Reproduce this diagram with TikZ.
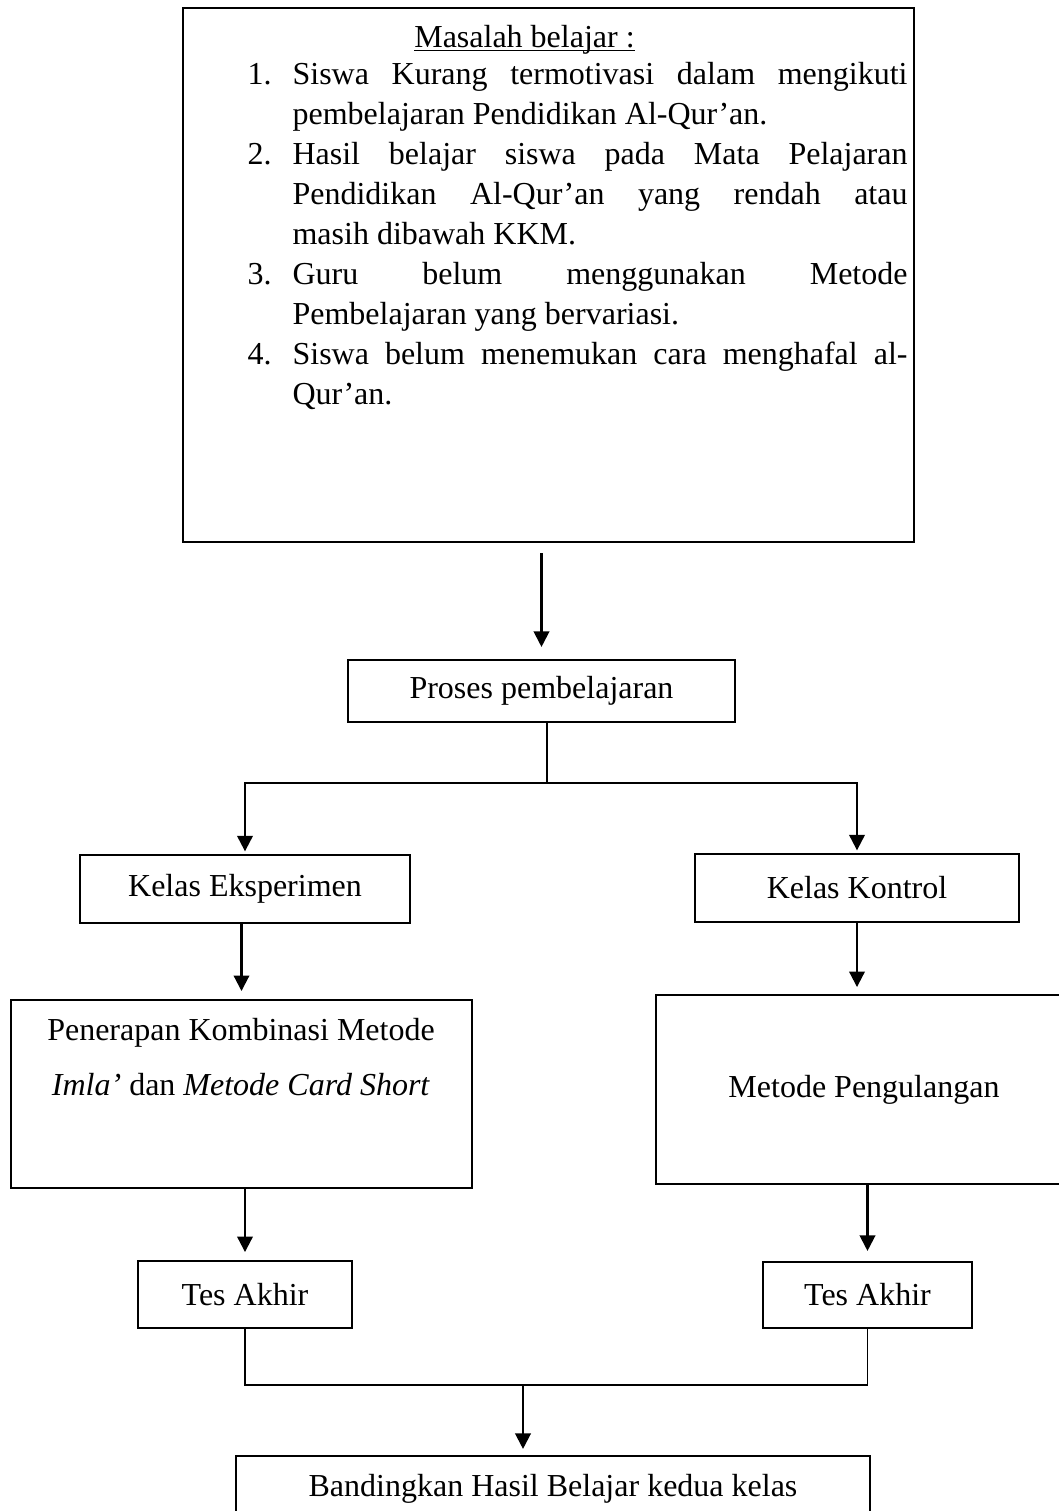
\documentclass[tikz,border=0pt]{standalone}
\usepackage{fontspec}
\setmainfont{Liberation Serif}
\usepackage{tikz}
\usetikzlibrary{arrows.meta, calc}

% numbered line with hanging text
\newcommand{\masitem}[2]{\par\noindent\hangindent=16.9pt\hangafter=1\makebox[16.9pt][l]{#1}#2\par}

\begin{document}
\begin{tikzpicture}[
        x=0.375pt, y=-0.375pt,
        every node/.style={font=\fontsize{12pt}{15pt}\selectfont},
        box/.style={draw, rectangle, line width=0.75pt, inner sep=0pt, text centered},
        arrow/.style={line width=0.8pt, -{Triangle[width=5.8pt,length=5.8pt]}},
        link/.style={line width=0.7pt}
      ]
        \useasboundingbox (0,0) rectangle (1059,1511);

        % Problem Section
        \node (masalah) [box, minimum width=274.1pt, minimum height=200.3pt] at (548.5,275) {};
        \node (masalah_title) [anchor=base, inner sep=0pt] at (524.5,47) {\underline{\smash{Masalah belajar :}}};
        \node (masalah_list) [anchor=north west, text width=247.5pt, align=justify, inner sep=0pt] at (247,44) {%
          \tolerance=10000\hyphenpenalty=10000
          \masitem{1.}{\strut Siswa Kurang termotivasi dalam mengikuti\linebreak pembelajaran Pendidikan Al-Qur’an.}
          \masitem{2.}{Hasil belajar siswa pada Mata Pelajaran\linebreak Pendidikan Al-Qur’an yang rendah atau\linebreak masih dibawah KKM.}
          \masitem{3.}{Guru belum menggunakan Metode\linebreak Pembelajaran yang bervariasi.}
          \masitem{4.}{Siswa belum menemukan cara menghafal al-\linebreak Qur’an.}};

        \node (proses) [box, minimum width=145.1pt, minimum height=23.3pt] at (541.5,691) {Proses pembelajaran};

        % Class Section
        \node (kelas_eks) [box, minimum width=123.8pt, minimum height=25.5pt] at (245,889) {Kelas Eksperimen};
        \node (kelas_kon) [box, minimum width=121.5pt, minimum height=25.5pt] at (857,888) {Kelas Kontrol};

        \node (metode_eks) [box, minimum width=172.9pt, minimum height=70.5pt] at (241.5,1094) {};
        \node (metode_eks_a) [anchor=base, inner sep=0pt] at (241,1040) {Penerapan Kombinasi Metode};
        \node (metode_eks_b) [anchor=base, inner sep=0pt] at (241,1095) {\textit{Imla’} dan \textit{Metode Card Short}};
        \node (metode_kon) [box, minimum width=156pt, minimum height=70.9pt] at (864,1089.5) {\raisebox{1.5pt}{Metode Pengulangan}};

        \node (tes_eks) [box, minimum width=80.3pt, minimum height=25.1pt] at (245,1294.5) {Tes Akhir};
        \node (tes_kon) [box, minimum width=78.4pt, minimum height=24.8pt] at (867.5,1295) {Tes Akhir};

        \node (banding) [box, minimum width=237.8pt, minimum height=24.8pt] at (553,1489) {Bandingkan Hasil Belajar kedua kelas};

        % Arrows
        \coordinate (split) at (547,783);
        \coordinate (merge) at (523,1385);
        \draw [arrow, shorten <=3.75pt, shorten >=4.5pt] (proses.north |- masalah.south) -- (proses.north);
        \draw [link] (split |- proses.south) -- (split);
        \draw [arrow, shorten >=1pt] (split) -| (kelas_eks.north);
        \draw [arrow, shorten >=1pt] (split) -| (kelas_kon.north);
        \draw [arrow, shorten >=3pt] (metode_eks.north |- kelas_eks.south) -- (metode_eks.north);
        \draw [arrow, shorten >=2.6pt] (kelas_kon.south) -- (kelas_kon.south |- metode_kon.north);
        \draw [arrow, shorten >=3pt] (tes_eks.north |- metode_eks.south) -- (tes_eks.north);
        \draw [arrow, shorten >=3.75pt] (tes_kon.north |- metode_kon.south) -- (tes_kon.north);
        \draw [link] (tes_eks.south) |- (merge) -| (tes_kon.south);
        \draw [arrow, shorten >=2.25pt] (merge) -- (merge |- banding.north);
      \end{tikzpicture}
\end{document}
